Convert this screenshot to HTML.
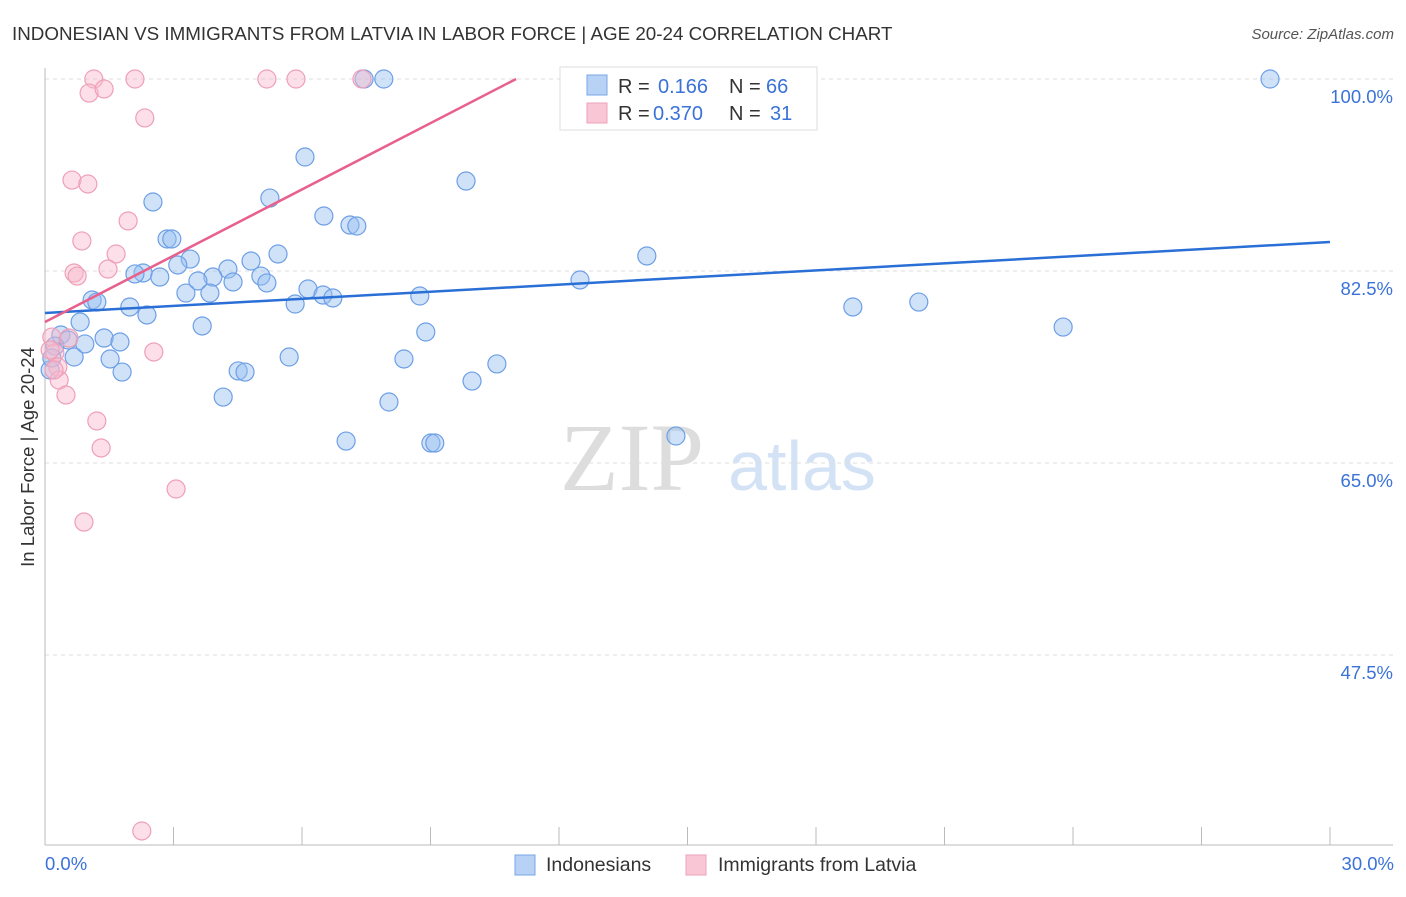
<!DOCTYPE html>
<html><head><meta charset="utf-8"><style>
body{margin:0;background:#fff;font-family:"Liberation Sans",sans-serif;}
svg text{font-family:"Liberation Sans",sans-serif;}
</style></head><body>
<svg id="chart" width="1406" height="892">
<text x="12" y="40" font-size="18.8" fill="#333">INDONESIAN VS IMMIGRANTS FROM LATVIA IN LABOR FORCE | AGE 20-24 CORRELATION CHART</text>
<text x="1394" y="39" font-size="15" fill="#555" text-anchor="end" font-style="italic">Source: ZipAtlas.com</text>
<text x="632" y="490" font-size="96" fill="#ddd" text-anchor="middle" style="font-family:'Liberation Serif',serif">ZIP</text>
<text x="802" y="490" font-size="70" fill="#d4e2f5" text-anchor="middle">atlas</text>
<g id="grid"></g>
<g id="pts"></g>
<g id="lines"></g>
<text transform="translate(34,457) rotate(-90)" font-size="18.5" fill="#333" text-anchor="middle">In Labor Force | Age 20-24</text>
<text x="45" y="870" font-size="18.5" fill="#3a72d8">0.0%</text>
<text x="1394" y="870" font-size="18.5" fill="#3a72d8" text-anchor="end">30.0%</text>
<g>
<rect x="560" y="67" width="257" height="63" fill="#fff" stroke="#ddd"/>
<rect x="587" y="75" width="20" height="20" fill="#b7d2f5" stroke="#7aa6e6"/>
<rect x="587" y="103" width="20" height="20" fill="#f9c6d6" stroke="#eea3bb"/>
<text x="618" y="93" font-size="20" fill="#333">R = </text><text x="658" y="93" font-size="20" fill="#3a72d8">0.166</text>
<text x="729" y="93" font-size="20" fill="#333">N = </text><text x="766" y="93" font-size="20" fill="#3a72d8">66</text>
<text x="618" y="120" font-size="20" fill="#333">R = </text><text x="653" y="120" font-size="20" fill="#3a72d8">0.370</text>
<text x="729" y="120" font-size="20" fill="#333">N = </text><text x="770" y="120" font-size="20" fill="#3a72d8">31</text>
</g>
<g>
<rect x="515" y="855" width="20" height="20" fill="#b7d2f5" stroke="#7aa6e6"/>
<text x="546" y="871" font-size="19.5" fill="#333">Indonesians</text>
<rect x="686" y="855" width="20" height="20" fill="#f9c6d6" stroke="#eea3bb"/>
<text x="718" y="871" font-size="19.5" fill="#333">Immigrants from Latvia</text>
</g>
</svg>
<script>
const yTicks=[100,82.5,65,47.5];
const yTickLabels=["100.0%","82.5%","65.0%","47.5%"];
const xTicks=[0,3,6,9,12,15,18,21,24,27,30];
const blueX=[28.60,7.91,7.45,6.07,9.83,5.25,2.52,6.51,7.12,7.28,2.85,2.96,5.44,3.39,4.81,14.05,3.10,4.27,2.29,2.10,2.68,5.04,12.49,3.92,3.57,4.39,5.18,6.14,3.29,3.85,6.49,6.72,8.75,1.10,1.21,1.98,5.84,18.86,20.40,2.38,0.82,3.67,23.77,8.89,0.37,1.38,0.93,1.75,0.54,0.23,5.70,0.68,1.52,8.38,10.55,1.80,4.51,4.67,9.97,4.16,8.03,7.03,9.01,9.10,14.73,0.12,0.16];
const blueY=[100,100,100,92.89,90.70,89.15,88.79,87.51,86.69,86.60,85.42,85.42,84.05,83.59,83.41,83.87,83.05,82.68,82.32,82.23,81.95,82.04,81.68,81.95,81.59,81.50,81.41,80.86,80.49,80.49,80.31,80.04,80.22,79.86,79.67,79.22,79.49,79.22,79.67,78.49,77.85,77.49,77.39,76.94,76.67,76.39,75.85,76.03,76.21,75.66,74.66,74.66,74.48,74.48,74.03,73.29,73.39,73.29,72.47,71.01,70.56,67.00,66.82,66.82,67.46,73.48,74.57];
const pinkX=[1.14,2.10,5.18,5.86,7.40,14.31,1.03,1.38,2.33,0.63,1.00,1.94,0.86,1.66,1.47,0.68,0.75,0.16,0.56,0.23,0.30,2.54,0.33,0.49,1.21,1.31,3.06,0.91,2.26,0.12,0.21];
const pinkY=[100,100,100,100,100,100,98.72,99.09,96.45,90.79,90.43,87.06,85.24,84.05,82.68,82.32,82.04,76.48,76.39,75.03,73.75,75.12,72.56,71.20,68.83,66.37,62.63,59.62,31.46,75.30,73.48];
const blueTrend=[78.67,85.14];
const pinkTrend=[77.85,2.014];
const NS="http://www.w3.org/2000/svg";
const X=v=>45+v/30*1285;
const Y=v=>79+(100-v)/17.5*192;
function mk(t,a,p){const e=document.createElementNS(NS,t);for(const k in a)e.setAttribute(k,a[k]);p.appendChild(e);return e;}
const grid=document.getElementById('grid');
yTicks.forEach((t,i)=>{
 const l=mk('line',{x1:45,x2:1393,y1:Y(t),y2:Y(t),stroke:'#ddd','stroke-dasharray':'4,4'},grid);
 
 
 const tx=mk('text',{x:1393,y:Y(t)+24,'font-size':18.5,fill:'#3a72d8','text-anchor':'end'},grid);
 tx.textContent=yTickLabels[i];
 
 
});
const ax=mk('line',{x1:45,x2:45,y1:68,y2:845,stroke:'#bbb'},grid);


const bx=mk('line',{x1:45,x2:1393,y1:845,y2:845,stroke:'#bbb'},grid);


xTicks.forEach(t=>{
 const l=mk('line',{x1:X(t),x2:X(t),y1:827,y2:845,stroke:'#bbb'},grid);
 
 
});
const pts=document.getElementById('pts');
blueX.forEach((v,i)=>{
 const c=mk('circle',{cx:X(v),cy:Y(blueY[i]),r:9,fill:'rgba(150,190,240,0.45)',stroke:'#6d9fe6','stroke-width':1.2},pts);
 
 
});
pinkX.forEach((v,i)=>{
 const c=mk('circle',{cx:X(v),cy:Y(pinkY[i]),r:9,fill:'rgba(248,185,205,0.45)',stroke:'#eea0b8','stroke-width':1.2},pts);
 
 
});
const lines=document.getElementById('lines');
const bl=mk('line',{x1:X(0),y1:Y(blueTrend[0]),x2:X(30),y2:Y(blueTrend[1]),stroke:'#2a6fd6','stroke-width':2.5},lines);


const xe=(100-pinkTrend[0])/pinkTrend[1];
const pl=mk('line',{x1:X(0),y1:Y(pinkTrend[0]),x2:X(xe),y2:Y(100),stroke:'#e8608c','stroke-width':2.5},lines);


</script>
</body></html>
